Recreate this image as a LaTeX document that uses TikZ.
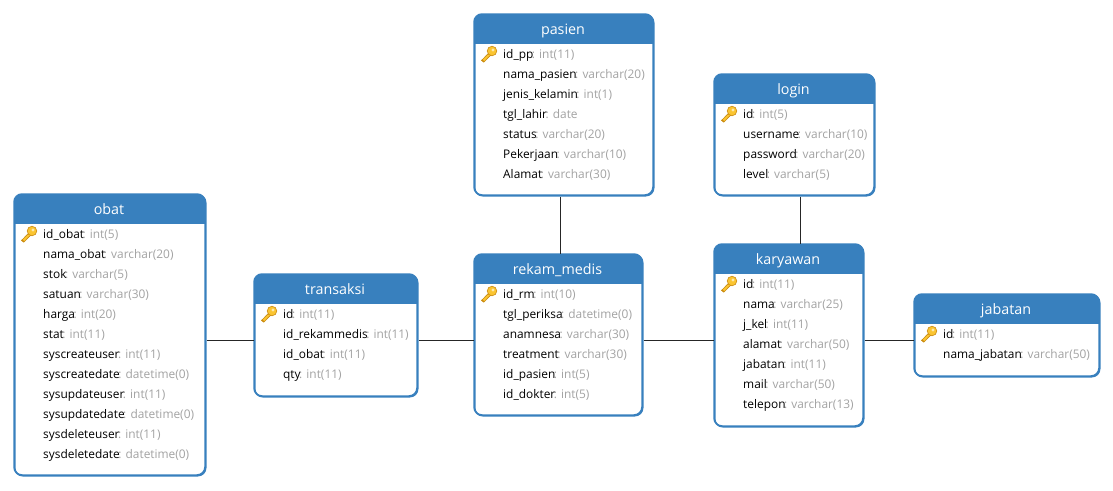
\documentclass[tikz,border=0pt]{standalone}
\usepackage{fontspec}
\setmainfont{Open Sans}
\definecolor{hdr}{HTML}{3880BE}
\definecolor{typ}{HTML}{A3A3A3}
\definecolor{keyf}{HTML}{FBC531}
\definecolor{keyd}{HTML}{C98A10}
\tikzset{x=1pt,y=-1pt,
 body/.style={draw=hdr,line width=1.5pt,rounded corners=8pt,fill=white,inner sep=0pt,anchor=north west},
 ttl/.style={text=white,font=\fontsize{14.3}{16}\selectfont,anchor=center,inner sep=0pt,text height=10pt,text depth=3pt},
 rowt/.style={font=\fontsize{11.9}{14}\selectfont,anchor=west,inner sep=0pt,text height=9pt,text depth=3pt},
 link/.style={draw=black!85,line width=0.8pt}}
\newcount\errowc
\newcommand{\erbox}[6]{%
 \node[body,minimum width=#5pt-#3pt,minimum height=#6pt-#4pt] (#1) at (#3,#4) {};
 \begin{scope}
  \clip[rounded corners=8pt] (#3,#4) rectangle (#5,#6);
  \fill[hdr] (#3,#4) rectangle (#5,#4+30);
 \end{scope}
 \draw[hdr,line width=1.5pt,rounded corners=8pt] (#3,#4) rectangle (#5,#6);
 \node[ttl] (#1-title) at ({(#3+#5)/2-0.5},#4+17) {#2};}
\newcommand{\erkey}[2]{%
 \begin{scope}[shift={(#1,#2)}]
  \draw[keyd,fill=keyf,line width=0.6pt,line join=round] (0.5,14.5) -- (8.2,6.6) -- (10.2,8.6) -- (3,16) -- cycle;
  \fill[keyd] (1.2,13.2) -- (3.5,15.6) -- (2.6,16.4) -- (0.4,14.2) -- cycle;
  \draw[keyd,fill=keyf,line width=0.6pt] (11,5) circle (4.8pt);
  \fill[white!60!keyf] (12,4) circle (1.6pt);
 \end{scope}}
\newcommand{\errow}[5]{% box, x, y, name, type
 \global\advance\errowc by 1
 \node[rowt] (#1-r\the\errowc) at (#2,#3+1) {#4\kern-1.5pt\textcolor{typ}{: #5}};}
\begin{document}
\begin{tikzpicture}
\useasboundingbox (0,0) rectangle (1113,490);
\fill[white] (0,0) rectangle (1113,490);
\erbox{pasien}{pasien}{474}{14}{653}{195}
\erbox{login}{login}{714}{74}{874}{195}
\erbox{obat}{obat}{14}{194}{205}{475}
\erbox{transaksi}{transaksi}{254}{274}{417}{396}
\erbox{rekam}{rekam\_medis}{474}{254}{642}{415}
\erbox{karyawan}{karyawan}{714}{244}{863}{426}
\erbox{jabatan}{jabatan}{914}{294}{1099}{376}
% connectors
\draw[link] ([xshift=-3.5pt]pasien.south) -- ([xshift=2pt]rekam.north);
\draw[link] ([xshift=6pt]login.south) -- ([xshift=11.5pt]karyawan.north);
\draw[link] ([yshift=-5.5pt]obat.east) -- ([yshift=-5pt]transaksi.west);
\draw[link] ([yshift=-5pt]transaksi.east) -- ([yshift=-5.5pt]rekam.west);
\draw[link] ([yshift=-5.5pt]rekam.east) -- ([yshift=-5pt]karyawan.west);
\draw[link] ([yshift=-5pt]karyawan.east) -- ([yshift=-5pt]jabatan.west);
% pasien
\erkey{481}{46}
\errow{pasien}{503}{54}{id\_pp}{int(11)}
\errow{pasien}{503}{74}{nama\_pasien}{varchar(20)}
\errow{pasien}{503}{94}{jenis\_kelamin}{int(1)}
\errow{pasien}{503}{114}{tgl\_lahir}{date}
\errow{pasien}{503}{134}{status}{varchar(20)}
\errow{pasien}{503}{154}{Pekerjaan}{varchar(10)}
\errow{pasien}{503}{174}{Alamat}{varchar(30)}
% login
\erkey{721}{106}
\errow{login}{743}{114}{id}{int(5)}
\errow{login}{743}{134}{username}{varchar(10)}
\errow{login}{743}{154}{password}{varchar(20)}
\errow{login}{743}{174}{level}{varchar(5)}
% obat
\erkey{21}{226}
\errow{obat}{43}{234}{id\_obat}{int(5)}
\errow{obat}{43}{254}{nama\_obat}{varchar(20)}
\errow{obat}{43}{274}{stok}{varchar(5)}
\errow{obat}{43}{294}{satuan}{varchar(30)}
\errow{obat}{43}{314}{harga}{int(20)}
\errow{obat}{43}{334}{stat}{int(11)}
\errow{obat}{43}{354}{syscreateuser}{int(11)}
\errow{obat}{43}{374}{syscreatedate}{datetime(0)}
\errow{obat}{43}{394}{sysupdateuser}{int(11)}
\errow{obat}{43}{414}{sysupdatedate}{datetime(0)}
\errow{obat}{43}{434}{sysdeleteuser}{int(11)}
\errow{obat}{43}{454}{sysdeletedate}{datetime(0)}
% transaksi
\erkey{261}{306}
\errow{transaksi}{283}{314}{id}{int(11)}
\errow{transaksi}{283}{334}{id\_rekammedis}{int(11)}
\errow{transaksi}{283}{354}{id\_obat}{int(11)}
\errow{transaksi}{283}{374}{qty}{int(11)}
% rekam
\erkey{481}{286}
\errow{rekam}{503}{294}{id\_rm}{int(10)}
\errow{rekam}{503}{314}{tgl\_periksa}{datetime(0)}
\errow{rekam}{503}{334}{anamnesa}{varchar(30)}
\errow{rekam}{503}{354}{treatment}{varchar(30)}
\errow{rekam}{503}{374}{id\_pasien}{int(5)}
\errow{rekam}{503}{394}{id\_dokter}{int(5)}
% karyawan
\erkey{721}{276}
\errow{karyawan}{743}{284}{id}{int(11)}
\errow{karyawan}{743}{304}{nama}{varchar(25)}
\errow{karyawan}{743}{324}{j\_kel}{int(11)}
\errow{karyawan}{743}{344}{alamat}{varchar(50)}
\errow{karyawan}{743}{364}{jabatan}{int(11)}
\errow{karyawan}{743}{384}{mail}{varchar(50)}
\errow{karyawan}{743}{404}{telepon}{varchar(13)}
% jabatan
\erkey{921}{326}
\errow{jabatan}{943}{334}{id}{int(11)}
\errow{jabatan}{943}{354}{nama\_jabatan}{varchar(50)}
\end{tikzpicture}
\end{document}
